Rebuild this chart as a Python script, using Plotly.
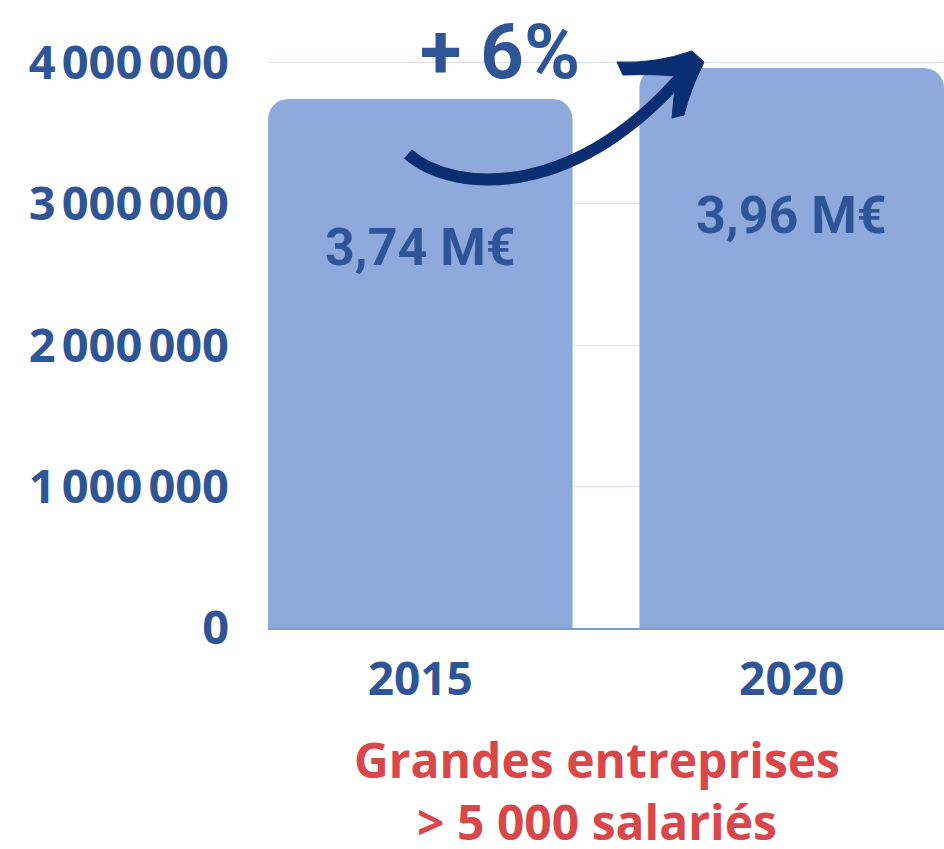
import plotly.graph_objects as go

# ---- data ----
years = ["2015", "2020"]
values = [3740000, 3960000]
value_labels = ["3,74 M€", "3,96 M€"]
growth_label = "+ 6%"
y_tickvals = [0, 1000000, 2000000, 3000000, 4000000]
y_ticktext = ["0", "1\u202f000\u202f000", "2\u202f000\u202f000", "3\u202f000\u202f000", "4\u202f000\u202f000"]
title_text = "Grandes entreprises<br>> 5 000 salariés"

BLUE = "#2f5597"
BAR = "#8eaadc"
NAVY = "#0b2e72"
RED = "#d9474b"
COND = "Roboto, Liberation Sans, sans-serif"

W, H = 944, 849
L, R, T, B = 268, 0, 34, 221
PW, PH = W - L - R, H - T - B


def px(x, y):
    return (x - L) / PW, (H - B - y) / PH


def path(cmds):
    out = []
    for c in cmds:
        if isinstance(c, str):
            out.append(c)
        else:
            a, b = px(*c)
            out.append(f"{a:.4f},{b:.4f}")
    return " ".join(out)


fig = go.Figure(go.Bar(
    x=years, y=values,
    marker=dict(color=BAR, cornerradius=20, line=dict(width=0)),
    hoverinfo="skip",
))

annotations = []
for i, (v, lab) in enumerate(zip(values, value_labels)):
    annotations.append(dict(
        x=i, y=v, xref="x", yref="y", text=lab, showarrow=False,
        yshift=-148, yanchor="middle", xanchor="center",
        font=dict(family=COND, size=52, color=BLUE, weight=700),
    ))

annotations.append(dict(
    x=px(500, 0)[0], y=px(0, 52)[1], xref="paper", yref="paper",
    text=growth_label, showarrow=False, yanchor="middle", xanchor="center",
    font=dict(family=COND, size=76, color=BLUE, weight=700),
))

annotations.append(dict(
    x=px(597, 0)[0], y=px(0, 790)[1], xref="paper", yref="paper",
    text=title_text, showarrow=False, yanchor="middle", xanchor="center",
    font=dict(family="Open Sans", size=48, color=RED, weight=700),
))

curve = path(["M", (408, 154), "C", (455, 195), (580, 200), (690, 66)])
head = path(["M", (704, 62), "L", (692, 51), "Q", (655, 64), (617, 62),
             "L", (623, 75), "Q", (655, 74), (676, 76),
             "L", (672, 118), "L", (684, 115), "Q", (690, 90), (704, 62), "Z"])

shapes = [
    dict(type="path", path=curve, xref="paper", yref="paper",
         line=dict(color=NAVY, width=12)),
    dict(type="path", path=head, xref="paper", yref="paper",
         line=dict(color=NAVY, width=1), fillcolor=NAVY),
]

fig.update_layout(
    width=W, height=H,
    margin=dict(l=L, r=R, t=T, b=B, pad=0),
    paper_bgcolor="white", plot_bgcolor="white",
    bargap=0.18,
    showlegend=False,
    annotations=annotations,
    shapes=shapes,
    xaxis=dict(
        type="category", range=[-0.41, 1.41],
        showgrid=False, showline=True, linecolor="#7f9bc8", linewidth=2,
        ticks="", ticklabelstandoff=10,
        tickfont=dict(family="Open Sans", size=46, color=BLUE, weight=700),
        fixedrange=True,
    ),
    yaxis=dict(
        range=[0, 4200000],
        tickvals=y_tickvals, ticktext=y_ticktext,
        showgrid=True, gridcolor="#d9dde6", gridwidth=1,
        zeroline=False, showline=False, ticks="",
        ticklabelstandoff=38,
        tickfont=dict(family="Open Sans", size=47, color=BLUE, weight=700),
        fixedrange=True,
    ),
)

fig.write_html(
    "out.html",
    config={"displayModeBar": False, "staticPlot": True},
    post_script="document.body.style.margin='0';document.body.style.overflow='hidden';",
)
